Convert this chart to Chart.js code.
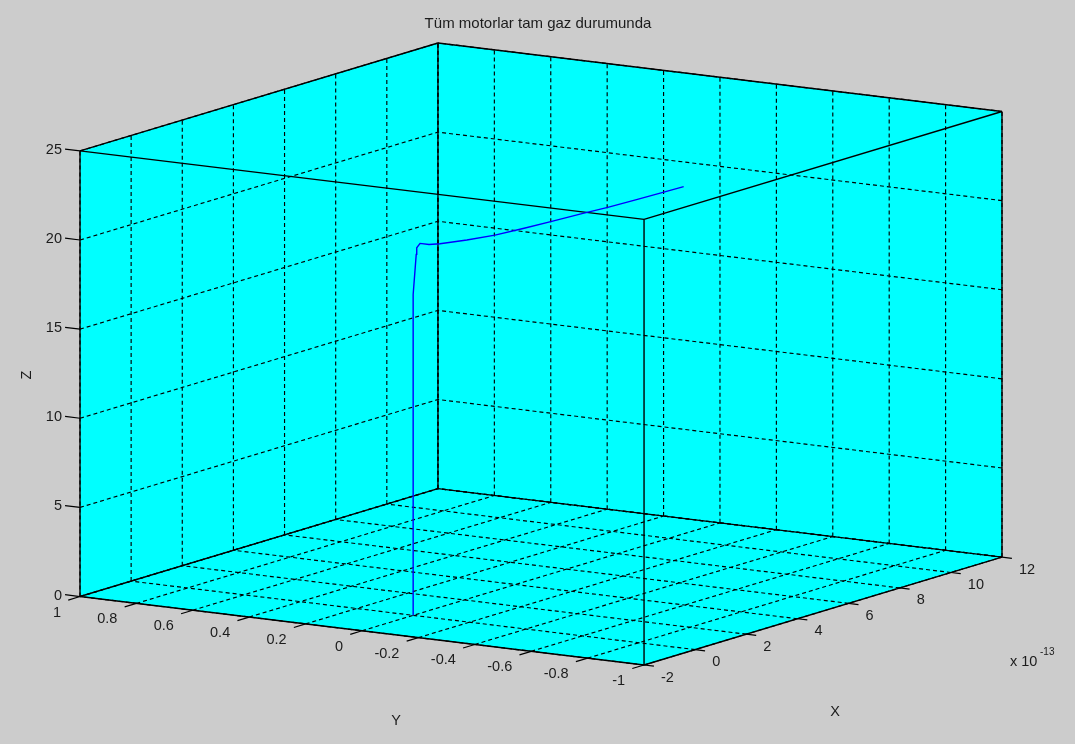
<!DOCTYPE html>
<html>
<head>
<meta charset="utf-8">
<title>Tüm motorlar tam gaz durumunda</title>
<script src="https://cdn.jsdelivr.net/npm/chart.js@4.4.1/dist/chart.umd.min.js"></script>
<style>
    html, body { margin: 0; padding: 0; background: #cccccc; }
    #wrap { width: 1075px; height: 744px; }
</style>
</head>
<body>
<div id="wrap"><canvas id="chart" width="1075" height="744"></canvas></div>
<script>
// data (x values are in units of 10^-13)
const titleText = 'Tüm motorlar tam gaz durumunda';
const xTicks = [-2, 0, 2, 4, 6, 8, 10, 12];
const yTicks = [-1, -0.8, -0.6, -0.4, -0.2, 0, 0.2, 0.4, 0.6, 0.8, 1];
const zTicks = [0, 5, 10, 15, 20, 25];
const xLim = [-2, 12];
const yLim = [-1, 1];
const zLim = [0, 25];

const curveX = [0, 0, 0, 0, 0, 0.12, 0.14, 0.27, 0.62, 1.05, 2.1, 3.2, 4.3, 5.42, 6.64, 7.61, 8.7, 9.84, 10.58];
const curveY = [0, 0, 0, 0, 0, 0, 0, 0, 0, 0, 0, 0, 0, 0, 0, 0, 0, 0, 0];
const curveZ = [0, 5, 10, 15, 18.0, 20.2, 20.56, 20.75, 20.54, 20.39, 20.15, 19.95, 19.84, 19.76, 19.68, 19.6, 19.55, 19.5, 19.48];

// view (matlab style azimuth / elevation)
const VIEW_AZ = -57.6;
const VIEW_EL = 16;

const FONT = '"Liberation Sans", Arial, sans-serif';
const TEXT_COLOR = '#1c1c1c';

function project(x, y, z) {
    const az = VIEW_AZ * Math.PI / 180;
    const el = VIEW_EL * Math.PI / 180;
    const xn = (x - xLim[0]) / (xLim[1] - xLim[0]);
    const yn = (y - yLim[0]) / (yLim[1] - yLim[0]);
    const zn = (z - zLim[0]) / (zLim[1] - zLim[0]);
    return {
        x: xn * Math.cos(az) + yn * Math.sin(az),
        y: (-xn * Math.sin(az) + yn * Math.cos(az)) * Math.sin(el) + zn * Math.cos(el)
    };
}

function line3d(pts, color, width, dash, order) {
    return {
        data: pts.map(p => project(p[0], p[1], p[2])),
        showLine: true,
        pointRadius: 0,
        borderColor: color,
        borderWidth: width,
        borderDash: dash,
        fill: false,
        clip: false,
        order: order
    };
}

const corners = [];
[xLim[0], xLim[1]].forEach(x => [yLim[0], yLim[1]].forEach(y => [zLim[0], zLim[1]].forEach(z => {
    corners.push(project(x, y, z));
})));
const uMin = Math.min(...corners.map(c => c.x));
const uMax = Math.max(...corners.map(c => c.x));
const vMin = Math.min(...corners.map(c => c.y));
const vMax = Math.max(...corners.map(c => c.y));

const datasets = [];
const [x0, x1] = xLim, [y0, y1] = yLim, [z0, z1] = zLim;
const dotted = [4, 3];

// curve on top
datasets.push(line3d(curveX.map((x, i) => [x, curveY[i], curveZ[i]]), '#0000ff', 1.4, [], 0));

// grid: floor, left wall (y = 1), right wall (x = 12)
xTicks.forEach(x => {
    datasets.push(line3d([[x, y0, z0], [x, y1, z0]], '#000', 1.15, dotted, 5));
    datasets.push(line3d([[x, y1, z0], [x, y1, z1]], '#000', 1.15, dotted, 5));
});
yTicks.forEach(y => {
    datasets.push(line3d([[x0, y, z0], [x1, y, z0]], '#000', 1.15, dotted, 5));
    datasets.push(line3d([[x1, y, z0], [x1, y, z1]], '#000', 1.15, dotted, 5));
});
zTicks.forEach(z => {
    datasets.push(line3d([[x0, y1, z], [x1, y1, z]], '#000', 1.15, dotted, 5));
    datasets.push(line3d([[x1, y0, z], [x1, y1, z]], '#000', 1.15, dotted, 5));
});

// box edges
const edges = [
    [[x0, y0, z0], [x1, y0, z0]], [[x0, y1, z0], [x1, y1, z0]],
    [[x0, y0, z1], [x1, y0, z1]], [[x0, y1, z1], [x1, y1, z1]],
    [[x0, y0, z0], [x0, y1, z0]], [[x1, y0, z0], [x1, y1, z0]],
    [[x0, y0, z1], [x0, y1, z1]], [[x1, y0, z1], [x1, y1, z1]],
    [[x0, y0, z0], [x0, y0, z1]], [[x1, y0, z0], [x1, y0, z1]],
    [[x0, y1, z0], [x0, y1, z1]], [[x1, y1, z0], [x1, y1, z1]]
];
edges.forEach(e => datasets.push(line3d(e, '#000', 1.4, [], 2)));

// tick marks
zTicks.forEach(z => datasets.push(line3d([[x0, y1, z], [x0, y1 + 0.053, z]], '#000', 1.2, [], 3)));
yTicks.forEach(y => datasets.push(line3d([[x0, y, z0], [x0 - 0.46, y, z0]], '#000', 1.2, [], 3)));
xTicks.forEach(x => datasets.push(line3d([[x, y0, z0], [x, y0 - 0.035, z0]], '#000', 1.2, [], 3)));

const boxFill = {
    id: 'boxFill',
    beforeDatasetsDraw(chart) {
        const { ctx, scales } = chart;
        const outline = [[x0, y1, z0], [x0, y0, z0], [x1, y0, z0], [x1, y0, z1], [x1, y1, z1], [x0, y1, z1]];
        ctx.save();
        ctx.fillStyle = '#00ffff';
        ctx.beginPath();
        outline.forEach((c, i) => {
            const p = project(c[0], c[1], c[2]);
            const px = scales.x.getPixelForValue(p.x);
            const py = scales.y.getPixelForValue(p.y);
            if (i === 0) ctx.moveTo(px, py); else ctx.lineTo(px, py);
        });
        ctx.closePath();
        ctx.fill();
        ctx.restore();
    }
};

const axisText = {
    id: 'axisText',
    afterDatasetsDraw(chart) {
        const { ctx, scales } = chart;
        const pix = (x, y, z) => {
            const p = project(x, y, z);
            return { x: scales.x.getPixelForValue(p.x), y: scales.y.getPixelForValue(p.y) };
        };
        ctx.save();
        ctx.fillStyle = TEXT_COLOR;
        ctx.textBaseline = 'middle';

        ctx.font = '14.5px ' + FONT;
        ctx.textAlign = 'right';
        zTicks.forEach(z => {
            const p = pix(x0, y1, z);
            ctx.fillText(String(z), p.x - 18, p.y - 1);
        });
        yTicks.forEach(y => {
            const p = pix(x0, y, z0);
            ctx.fillText(String(y), p.x - 19, p.y + 16);
        });
        ctx.textAlign = 'left';
        xTicks.forEach(x => {
            const p = pix(x, y0, z0);
            ctx.fillText(String(x), p.x + 17, p.y + 12.5);
        });

        // exponent
        ctx.fillText('x 10', 1010, 662);
        ctx.font = '10px ' + FONT;
        ctx.fillText('-13', 1040, 652);

        // axis labels
        ctx.font = '14.5px ' + FONT;
        ctx.textAlign = 'center';
        ctx.fillText('X', 835, 712);
        ctx.fillText('Y', 396, 721);
        ctx.save();
        ctx.translate(27, 375);
        ctx.rotate(-Math.PI / 2);
        ctx.fillText('Z', 0, 0);
        ctx.restore();

        // title
        ctx.font = '15px ' + FONT;
        ctx.fillText(titleText, 538, 24);
        ctx.restore();
    }
};

new Chart(document.getElementById('chart'), {
    type: 'scatter',
    data: { datasets: datasets },
    options: {
        responsive: false,
        animation: false,
        events: [],
        layout: { padding: { left: 80, right: 73, top: 43, bottom: 79 } },
        scales: {
            x: { type: 'linear', display: false, min: uMin, max: uMax },
            y: { type: 'linear', display: false, min: vMin, max: vMax }
        },
        plugins: {
            legend: { display: false },
            title: { display: false },
            tooltip: { enabled: false }
        }
    },
    plugins: [boxFill, axisText]
});
</script>
</body>
</html>
